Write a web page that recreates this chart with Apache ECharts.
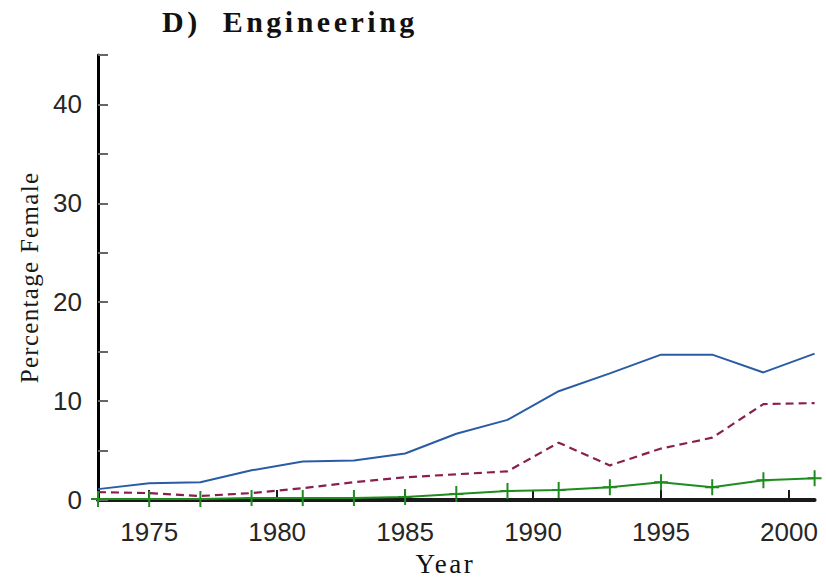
<!DOCTYPE html>
<html>
<head>
<meta charset="utf-8">
<script src="https://cdn.jsdelivr.net/npm/echarts@6/dist/echarts.min.js"></script>
<style>
html,body{margin:0;padding:0;background:#fff;}
#chart{width:826px;height:582px;}
#chart text[style*="30px"]{letter-spacing:3.5px;}
#chart text[style*="25px"]{letter-spacing:1.3px;}
#chart text[style*="27px"]{letter-spacing:2.5px;}
</style>
</head>
<body>
<div id="chart"></div>
<script>
var years = [1973,1975,1977,1979,1981,1983,1985,1987,1989,1991,1993,1995,1997,1999,2001];
var seriesBlue = [1.1,1.7,1.8,3.0,3.9,4.0,4.7,6.7,8.1,11.0,12.8,14.7,14.7,12.9,14.8];
var seriesPurple = [0.8,0.7,0.4,0.7,1.2,1.8,2.3,2.6,2.9,5.8,3.5,5.2,6.3,9.7,9.8];
var seriesGreen = [0.1,0.1,0.1,0.2,0.2,0.2,0.3,0.6,0.9,1.0,1.3,1.8,1.3,2.0,2.2];
var xTickYears = [1975,1980,1985,1990,1995,2000];
var titleText = 'D)  Engineering';
var yName = 'Percentage Female';
var xName = 'Year';

function pairs(vals){ return years.map(function(y,i){ return [y, vals[i]]; }); }

var chart = echarts.init(document.getElementById('chart'), null, {renderer:'svg'});
chart.setOption({
  animation:false,
  backgroundColor:'#fff',
  title:{
    text:titleText, left:162, top:6, padding:0,
    textStyle:{fontFamily:'Liberation Serif', fontWeight:'bold', fontSize:30, color:'#111'}
  },
  grid:{left:98, right:11.4, top:55, bottom:77, containLabel:false},
  xAxis:{
    type:'value', min:1973, max:2001,
    name:xName, nameLocation:'middle', nameGap:50,
    nameTextStyle:{fontFamily:'Liberation Serif', fontSize:27, color:'#111', padding:[0,22,0,0]},
    axisLine:{show:true, onZero:false, lineStyle:{color:'#1a1a1a', width:4}},
    axisTick:{show:true, inside:true, length:10, customValues:xTickYears, lineStyle:{color:'#1a1a1a', width:2}},
    axisLabel:{customValues:xTickYears, margin:19, fontFamily:'Liberation Sans', fontSize:26, color:'#262626', formatter:function(v){return String(v);}},
    splitLine:{show:false}
  },
  yAxis:{
    type:'value', min:0, max:45, interval:5,
    name:yName, nameLocation:'middle', nameGap:51,
    nameTextStyle:{fontFamily:'Liberation Serif', fontSize:25, color:'#1a1a1a'},
    axisLine:{show:true, lineStyle:{color:'#000', width:3}},
    axisTick:{show:true, inside:true, length:10, lineStyle:{color:'#666', width:2}},
    axisLabel:{margin:16, fontFamily:'Liberation Sans', fontSize:26, color:'#262626',
      formatter:function(v){ return (v % 10 === 0) ? String(v) : ''; }},
    splitLine:{show:false}
  },
  series:[
    {type:'line', data:pairs(seriesBlue), showSymbol:false, symbol:'none',
     lineStyle:{color:'#2a5ca6', width:2}, z:3},
    {type:'line', data:pairs(seriesPurple), showSymbol:false, symbol:'none',
     lineStyle:{color:'#8a1f4f', width:2.2, type:[8,5]}, z:4},
    {type:'line', data:pairs(seriesGreen), symbol:'path://M-1,-8H1V-1H7V1H1V8H-1V1H-7V-1H-1Z', symbolSize:[14,16], showSymbol:true,
     itemStyle:{color:'#1f8c1f'}, lineStyle:{color:'#1f8c1f', width:2}, z:5}
  ]
});
</script>
</body>
</html>
